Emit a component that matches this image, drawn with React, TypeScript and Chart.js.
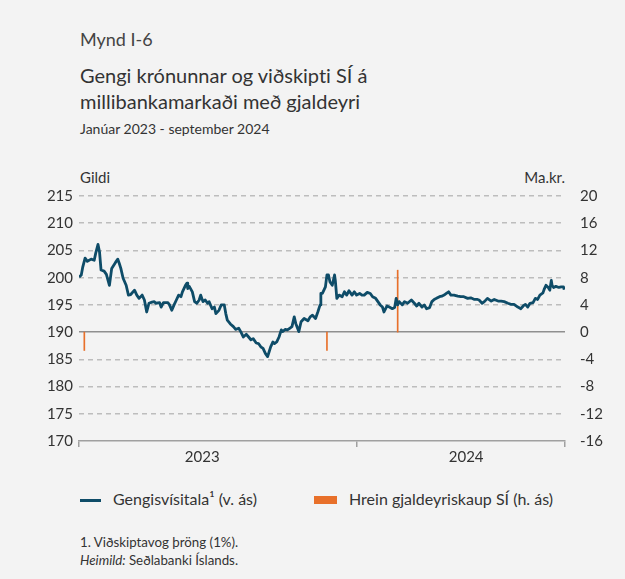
import React, { useEffect, useRef } from 'react';
import { Chart, registerables } from 'chart.js';

Chart.register(...registerables);

// Days since 1 January 2023
const indexDays = [
  0, 3, 5, 8, 11, 16, 20, 22, 25, 27,
  29, 33, 36, 40, 43, 48, 51, 53, 55, 58,
  62, 65, 68, 73, 76, 79, 83, 86, 89, 92,
  96, 99, 101, 106, 108, 111, 117, 119, 122, 125,
  128, 131, 134, 136, 140, 142, 143, 145, 149, 152,
  155, 158, 160, 163, 166, 169, 171, 175, 178, 180,
  184, 187, 191, 193, 195, 199, 203, 206, 210, 213,
  216, 220, 223, 226, 229, 233, 236, 239, 242, 245,
  248, 250, 252, 255, 257, 260, 263, 266, 268, 271,
  274, 277, 280, 283, 285, 289, 292, 296, 301, 304,
  307, 311, 314, 317, 318, 320, 324, 326, 328, 330,
  333, 336, 337, 339, 342, 346, 349, 352, 355, 359,
  362, 365, 369, 372, 375, 379, 383, 386, 390, 393,
  396, 399, 401, 405, 408, 412, 415, 417, 419, 421,
  425, 428, 432, 437, 441, 444, 447, 451, 454, 457,
  461, 464, 467, 470, 474, 477, 480, 483, 486, 489,
  493, 498, 502, 506, 511, 515, 520, 524, 526, 530,
  533, 537, 542, 546, 551, 555, 559, 564, 568, 572,
  577, 581, 584, 587, 590, 593, 597, 600, 603, 606,
  610, 612, 614, 617, 619, 621, 622, 624, 627, 631,
  634, 637, 638,
];

// Gengisvísitala (left axis)
const indexValues = [
  200.1, 200.5, 202, 203.6, 203, 203.4, 203.2, 204.5, 206.1, 204.7,
  201.4, 201.2, 200.6, 198.6, 201.7, 202.8, 203.4, 202.6, 201.7, 199.9,
  198.6, 196.8, 196.9, 197.7, 196.8, 196.2, 196.8, 195.9, 193.7, 195.3,
  195.5, 195.6, 195.3, 195.4, 194.6, 195.4, 195.4, 195, 194, 195,
  195.9, 196.8, 196.5, 197.4, 198.6, 199, 198, 198.4, 197.4, 195.6,
  195.3, 195.9, 196.8, 195.6, 195.9, 195.3, 195.6, 194.3, 194.6, 193.4,
  194, 195, 195, 193.4, 192.2, 191.5, 191, 190.5, 190.7, 190,
  189.1, 189.6, 189.1, 188.6, 188.8, 188, 187.9, 187.3, 187, 186.1,
  185.5, 186.4, 187.3, 188.2, 187.9, 188.2, 189.1, 190.4, 190.1, 190.5,
  190.4, 190.7, 191, 192.8, 191.6, 190.1, 191.9, 192.5, 192.1, 192.8,
  193.1, 192.5, 193.7, 195, 197.1, 197.1, 198.3, 200.5, 200.5, 199.2,
  198.6, 200.5, 199.5, 196.2, 196.8, 196.5, 197.4, 196.8, 197.6, 196.8,
  197.4, 196.8, 197.1, 196.8, 196.8, 197.3, 197.1, 196.5, 196.2, 195.6,
  195, 194.6, 193.7, 194.8, 194.6, 194.3, 194.5, 196.2, 195, 195.6,
  195, 195.6, 195.3, 195.9, 195.3, 194.8, 195.3, 194.6, 195, 194.3,
  194.5, 195.6, 196, 196.2, 196.5, 196.6, 196.8, 197.1, 197.4, 196.8,
  196.8, 196.6, 196.5, 196.5, 196.2, 196.3, 196, 196, 195.9, 195.3,
  195.6, 196.2, 195.7, 196, 195.7, 195.7, 195.6, 195.3, 195.1, 195.1,
  194.6, 194.3, 194.8, 195.1, 194.6, 195.3, 195.4, 196.2, 196, 196.8,
  197.2, 198, 198.6, 198.2, 197.7, 199.5, 198.6, 198.2, 198.4, 198.2,
  198.3, 198.3, 197.8,
];

// Hrein gjaldeyriskaup SÍ, ma.kr. (right axis)
const purchaseDays = [7, 326, 419];
const purchaseValues = [-2.7, -2.7, 9.1];

const yearLabels = ['2023', '2024'];
const yearLabelDays = [162, 509];
const yearBoundaryDays = [0, 365, 639];

const leftTicks = [170, 175, 180, 185, 190, 195, 200, 205, 210, 215];
const rightTicks = [-16, -12, -8, -4, 0, 4, 8, 12, 16, 20];

const FONT = 'Lato, "Noto Sans", sans-serif';
const TEXT = '#333333';

export default function App() {
  const ref = useRef<HTMLCanvasElement>(null);

  useEffect(() => {
    const canvas = ref.current;
    if (!canvas) return;
    const chart = new Chart(canvas, {
      type: 'line',
      data: {
        datasets: [
          {
            type: 'line',
            label: 'Gengisvísitala¹ (v. ás)',
            data: indexDays.map((d, i) => ({ x: d, y: indexValues[i] })),
            yAxisID: 'yL',
            borderColor: '#0e4c68',
            borderWidth: 2.8,
            pointRadius: 0,
            tension: 0,
            borderJoinStyle: 'round',
            order: 0,
          } as any,
          {
            type: 'bar',
            label: 'Hrein gjaldeyriskaup SÍ (h. ás)',
            data: purchaseDays.map((d, i) => ({ x: d, y: purchaseValues[i] })),
            yAxisID: 'yR',
            backgroundColor: '#e8702a',
            borderWidth: 0,
            barThickness: 1,
            order: 1,
          } as any,
        ],
      },
      options: {
        animation: false,
        responsive: false,
        devicePixelRatio: 1,
        layout: { padding: { top: 20, left: 0, right: 0, bottom: 0 } },
        plugins: { legend: { display: false }, tooltip: { enabled: false } },
        scales: {
          x: {
            type: 'linear',
            min: yearBoundaryDays[0],
            max: yearBoundaryDays[yearBoundaryDays.length - 1],
            offset: false,
            afterBuildTicks: (s: any) => {
              s.ticks = [...yearBoundaryDays, ...yearLabelDays]
                .sort((a, b) => a - b)
                .map((v) => ({ value: v }));
            },
            afterFit: (s: any) => {
              s.height = 24;
            },
            ticks: {
              autoSkip: false,
              maxRotation: 0,
              minRotation: 0,
              padding: 1,
              color: TEXT,
              font: { family: FONT, size: 15 },
              callback: (v: any) => {
                const i = yearLabelDays.indexOf(Number(v));
                return i >= 0 ? yearLabels[i] : '';
              },
            },
            grid: {
              drawOnChartArea: false,
              drawTicks: true,
              tickLength: 6,
              offset: false,
              lineWidth: 1.5,
              color: (ctx: any) =>
                ctx.tick && yearBoundaryDays.includes(ctx.tick.value) ? '#a0a0a0' : 'rgba(0,0,0,0)',
            },
            border: { display: true, color: '#a0a0a0', width: 1.5 },
          },
          yL: {
            type: 'linear',
            position: 'left',
            min: leftTicks[0],
            max: leftTicks[leftTicks.length - 1],
            afterBuildTicks: (s: any) => {
              s.ticks = leftTicks.map((v) => ({ value: v }));
            },
            afterFit: (s: any) => {
              s.width = 59;
            },
            ticks: { padding: 6, color: TEXT, font: { family: FONT, size: 15 } },
            grid: {
              drawTicks: false,
              lineWidth: 1.5,
              color: (ctx: any) => {
                const v = ctx.tick ? ctx.tick.value : null;
                if (v === 170) return 'rgba(0,0,0,0)';
                if (v === 190) return '#8f8f8f';
                return '#bdbdbd';
              },
            },
            border: {
              display: false,
              dash: (ctx: any) => (ctx.tick && ctx.tick.value === 190 ? [] : [5, 4]),
            },
          },
          yR: {
            type: 'linear',
            position: 'right',
            min: rightTicks[0],
            max: rightTicks[rightTicks.length - 1],
            afterBuildTicks: (s: any) => {
              s.ticks = rightTicks.map((v) => ({ value: v }));
            },
            afterFit: (s: any) => {
              s.width = 40;
            },
            ticks: { padding: 7, color: TEXT, font: { family: FONT, size: 15 } },
            grid: { display: false },
            border: { display: false },
          },
        },
      } as any,
    });
    return () => chart.destroy();
  }, []);

  const abs = (left: number, top: number, extra: React.CSSProperties = {}): React.CSSProperties => ({
    position: 'absolute',
    left,
    top,
    whiteSpace: 'nowrap',
    fontFamily: FONT,
    color: TEXT,
    lineHeight: 1.2,
    fontVariantLigatures: 'none',
    ...extra,
  });

  return (
    <div
      style={{
        position: 'absolute',
        left: 0,
        top: 0,
        width: 625,
        height: 579,
        background: '#f3f3f3',
        overflow: 'hidden',
      }}
    >
      <div style={abs(80, 29, { fontSize: 18, color: '#444' })}>Mynd I-6</div>
      <div style={abs(80, 62, { fontSize: 20, lineHeight: '26px' })}>
        Gengi krónunnar og viðskipti SÍ á
        <br />
        millibankamarkaði með gjaldeyri
      </div>
      <div style={abs(80, 121, { fontSize: 14 })}>Janúar 2023 - september 2024</div>
      <div style={abs(80, 168, { fontSize: 15 })}>Gildi</div>
      <div style={abs(0, 168, { fontSize: 15, left: undefined, right: 60 })}>Ma.kr.</div>

      <canvas
        ref={ref}
        width={585}
        height={289}
        style={{ position: 'absolute', left: 20, top: 176, width: 585, height: 289 }}
      />

      <div style={{ position: 'absolute', left: 80, top: 499, width: 21, height: 2.5, background: '#0e4c68' }} />
      <div style={abs(113, 489, { fontSize: 16 })}>Gengisvísitala¹ (v. ás)</div>
      <div style={{ position: 'absolute', left: 314, top: 496, width: 23, height: 7.5, background: '#e8702a' }} />
      <div style={abs(349, 489, { fontSize: 16 })}>Hrein gjaldeyriskaup SÍ (h. ás)</div>

      <div style={abs(80, 535, { fontSize: 13.3 })}>1. Viðskiptavog þröng (1%).</div>
      <div style={abs(80, 553, { fontSize: 13.3 })}>
        <i>Heimild:</i> Seðlabanki Íslands.
      </div>
    </div>
  );
}
